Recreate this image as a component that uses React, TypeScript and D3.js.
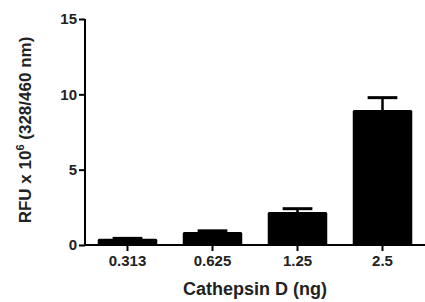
import React, { useEffect, useRef } from 'react';
import * as d3 from 'd3';

const categories = ['0.313', '0.625', '1.25', '2.5'];
const means = [0.42, 0.86, 2.19, 8.96];
const errors = [0.02, 0.08, 0.22, 0.82];
const yTicks = [0, 5, 10, 15];

const App = () => {
  const svgRef = useRef<SVGSVGElement>(null);

  useEffect(() => {
    const width = 425;
    const height = 302;
    const margin = { top: 19, right: 0, bottom: 57, left: 85 };

    const svg = d3.select(svgRef.current)
      .attr('width', width)
      .attr('height', height);
    svg.selectAll('*').remove();

    const font = '"Liberation Sans", Arial, sans-serif';

    const x = d3.scaleBand()
      .domain(categories)
      .range([margin.left, width - margin.right])
      .paddingInner(0.3)
      .paddingOuter(0.15);

    const y = d3.scaleLinear()
      .domain([0, 15])
      .range([height - margin.bottom, margin.top]);

    // bars
    svg.selectAll('.bar')
      .data(means)
      .enter()
      .append('rect')
      .attr('class', 'bar')
      .attr('x', (d, i) => x(categories[i])!)
      .attr('y', d => y(d))
      .attr('width', x.bandwidth())
      .attr('height', d => y(0) - y(d))
      .attr('rx', 1.5)
      .attr('fill', '#000');

    // error bars (upper only)
    const capW = x.bandwidth() / 2;
    means.forEach((m, i) => {
      const cx = x(categories[i])! + x.bandwidth() / 2;
      svg.append('line')
        .attr('x1', cx).attr('x2', cx)
        .attr('y1', y(m)).attr('y2', y(m + errors[i]))
        .attr('stroke', '#000').attr('stroke-width', 2.5);
      svg.append('line')
        .attr('x1', cx - capW / 2).attr('x2', cx + capW / 2)
        .attr('y1', y(m + errors[i])).attr('y2', y(m + errors[i]))
        .attr('stroke', '#000').attr('stroke-width', 3);
    });

    // y axis
    const yAxis = svg.append('g')
      .attr('transform', `translate(${margin.left},0)`)
      .call(d3.axisLeft(y).tickValues(yTicks).tickSize(6).tickPadding(2));
    yAxis.select('.domain').attr('stroke-width', 2).attr('d', `M0,${y(15)}V${y(0)}`);
    yAxis.selectAll('.tick line').attr('stroke-width', 2);
    yAxis.selectAll('.tick text')
      .style('font-family', font)
      .style('font-size', '15px')
      .style('font-weight', 'bold')
      .attr('fill', '#222');

    // x axis
    const xAxis = svg.append('g')
      .attr('transform', `translate(0,${y(0)})`)
      .call(d3.axisBottom(x).tickSize(6).tickPadding(4));
    xAxis.select('.domain').attr('stroke-width', 2).attr('d', `M${margin.left},0H${width}`);
    xAxis.selectAll('.tick line').attr('stroke-width', 2);
    xAxis.selectAll('.tick text')
      .style('font-family', font)
      .style('font-size', '15px')
      .style('font-weight', 'bold')
      .attr('fill', '#222');

    svg.append('text')
      .attr('x', (margin.left + width) / 2)
      .attr('y', 295)
      .attr('text-anchor', 'middle')
      .style('font-family', font)
      .style('font-size', '18px')
      .style('font-weight', 'bold')
      .attr('fill', '#222')
      .text('Cathepsin D (ng)');

    const yl = svg.append('text')
      .attr('transform', `translate(31,${(y(0) + y(15)) / 2 - 2}) rotate(-90)`)
      .attr('text-anchor', 'middle')
      .style('font-family', font)
      .style('font-size', '17px')
      .style('font-weight', 'bold')
      .attr('fill', '#222');
    yl.append('tspan').text('RFU x 10');
    yl.append('tspan').attr('dy', -7).style('font-size', '11px').text('6');
    yl.append('tspan').attr('dy', 7).text(' (328/460 nm)');
  }, []);

  return (
    <div style={{ position: 'absolute', left: 0, top: 0 }}>
      <svg ref={svgRef} style={{ display: 'block' }}></svg>
    </div>
  );
};

export default App;
